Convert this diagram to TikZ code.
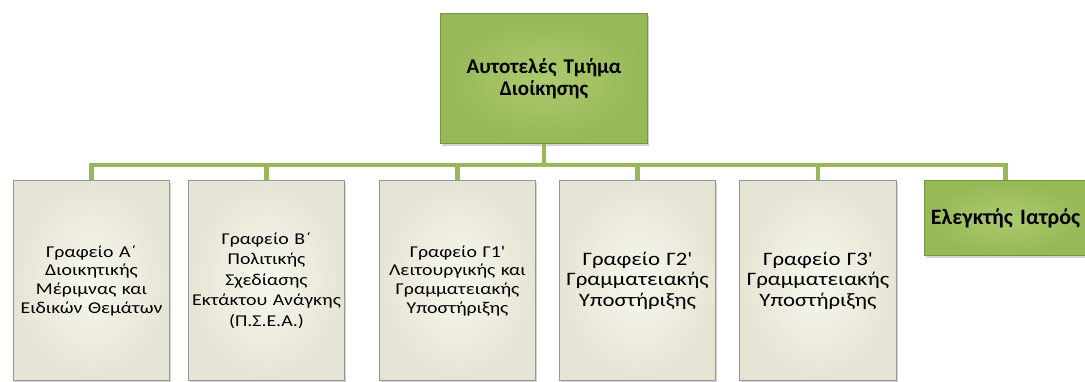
\documentclass[tikz,border=0pt]{standalone}
\usepackage{fontspec}
\setmainfont{Carlito}
\newfontfamily\widefont{Carlito}[FakeStretch=1.2]
\usetikzlibrary{positioning, shadows}
\definecolor{dgreen}{RGB}{150,184,86}
\definecolor{dgreenlight}{RGB}{172,202,112}
\definecolor{dgreenedge}{RGB}{120,148,62}
\definecolor{dcream}{RGB}{248,247,238}
\definecolor{dcreamedge}{RGB}{230,228,212}
\definecolor{dframe}{RGB}{150,150,150}

\begin{document}
\begin{tikzpicture}[
    x=1pt, y=-1pt,
    office/.style={draw=dframe, line width=1.2pt, inner color=dcream, outer color=dcreamedge,
        minimum width=150pt, minimum height=200pt, text width=150pt, align=center, anchor=north,
        font=\widefont\fontsize{16.5}{18.7}\selectfont,
        drop shadow={opacity=0.35, shadow xshift=1.5pt, shadow yshift=-2pt}},
    chief/.style={draw=dgreenedge, line width=1.2pt, inner color=dgreenlight, outer color=dgreen,
        align=center, anchor=north, font=\bfseries,
        drop shadow={opacity=0.35, shadow xshift=1.5pt, shadow yshift=-2pt}},
    link/.style={dgreen, line width=4.5pt},
]
    \useasboundingbox (0,0) rectangle (1085,381);

    % Head of the department
    \node[chief, minimum width=206pt, minimum height=130pt, text width=200pt,
        font=\bfseries\fontsize{21}{22}\selectfont] (head) at (544,13) {Αυτοτελές Τμήμα\\Διοίκησης};

    % Offices
    \node[office] (ofa) at (91.5,180) {Γραφείο Α΄\\Διοικητικής\\Μέριμνας και\\Ειδικών Θεμάτων};
    \node[office, font=\widefont\fontsize{16.5}{20.5}\selectfont] (ofb) at (266.5,180)
        {Γραφείο Β΄\\Πολιτικής\\Σχεδίασης\\Εκτάκτου Ανάγκης\\(Π.Σ.Ε.Α.)};
    \node[office] (ofc) at (457.5,180) {Γραφείο Γ1'\\Λειτουργικής και\\Γραμματειακής\\Υποστήριξης};
    \node[office, font=\widefont\fontsize{19}{20.5}\selectfont] (ofd) at (637.5,180)
        {Γραφείο Γ2'\\Γραμματειακής\\Υποστήριξης};
    \node[office, font=\widefont\fontsize{19}{20.5}\selectfont] (ofe) at (818,180)
        {Γραφείο Γ3'\\Γραμματειακής\\Υποστήριξης};

    % Medical examiner
    \node[chief, minimum width=155pt, minimum height=75pt, text width=155pt,
        font=\bfseries\fontsize{22}{24}\selectfont] (doc) at (1005.5,180) {Ελεγκτής Ιατρός};

    % Connectors
    \coordinate (bus) at (544,165);
    \draw[link] (head.south) -- (head.south |- bus);
    \foreach \n in {ofa,ofb,ofc,ofd,ofe,doc}
        \draw[link] (head.south |- bus) -| (\n.north);
\end{tikzpicture}
\end{document}
